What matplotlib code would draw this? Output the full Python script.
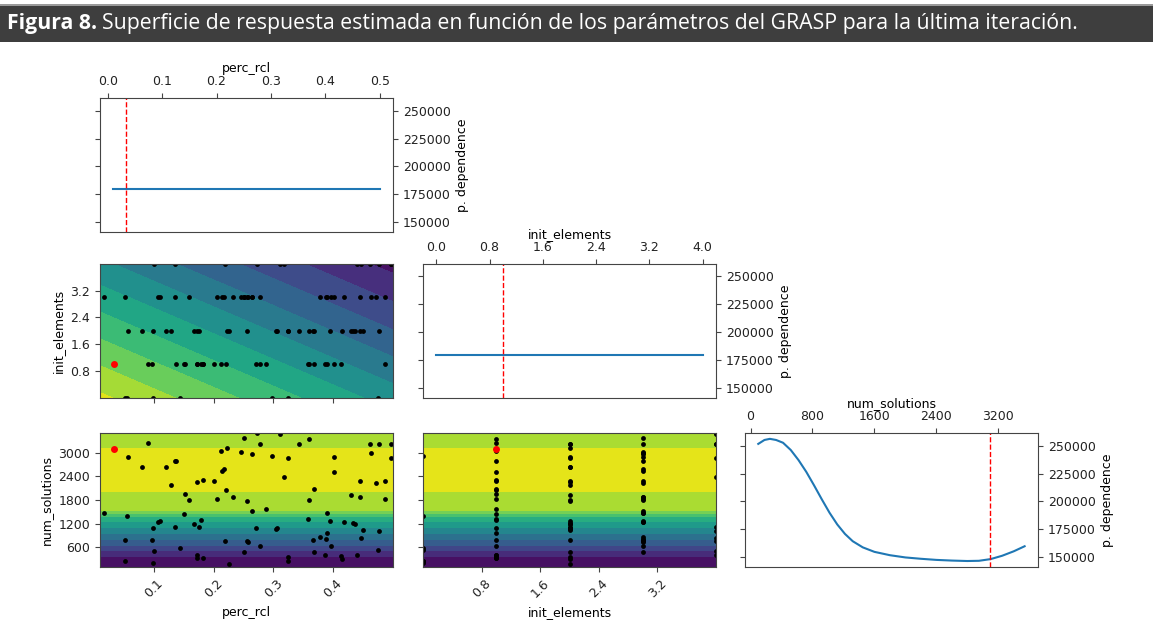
import numpy as np
import matplotlib
matplotlib.use("Agg")
import matplotlib.pyplot as plt
from matplotlib.patches import Rectangle
from matplotlib.ticker import MaxNLocator

# Evaluated samples (perc_rcl, init_elements, num_solutions)
perc_rcl = [0.090, 0.0567, 0.0795, 0.120, 0.135, 0.138, 0.1295, 0.173, 0.183, 0.200,
            0.2117, 0.223, 0.2457, 0.2517, 0.214, 0.217, 0.152, 0.159, 0.221, 0.206,
            0.233, 0.256, 0.0167, 0.0545, 0.1507, 0.1067, 0.110, 0.179, 0.168, 0.175,
            0.135, 0.099, 0.0523, 0.0973, 0.1007, 0.144, 0.1723, 0.1723, 0.1817, 0.0512,
            0.0983, 0.2195, 0.225, 0.2567, 0.2517,
            0.2723, 0.3107, 0.278, 0.343, 0.360, 0.265, 0.298, 0.325, 0.4017, 0.4017,
            0.4623, 0.4767, 0.4962, 0.464, 0.4973, 0.3173, 0.3678, 0.445, 0.4723, 0.4867,
            0.359, 0.4295, 0.445, 0.4862, 0.264, 0.288, 0.3895, 0.3573, 0.3945, 0.4183,
            0.4333, 0.4362, 0.4507, 0.4773, 0.2702, 0.304, 0.3057, 0.2583, 0.278, 0.366,
            0.3783, 0.3873, 0.389, 0.446, 0.396, 0.3673, 0.386, 0.4133, 0.415, 0.4407,
            0.475, 0.324, 0.324]
init_elements = [1, 2, 2, 2, 3, 1, 2, 2, 1, 1,
                 1, 2, 3, 3, 3, 3, 1, 3, 1, 3,
                 3, 2, 3, 0, 1, 3, 3, 1, 2, 2,
                 4, 2, 3, 1, 4, 0, 1, 1, 1, 0,
                 0, 4, 2, 3, 3,
                 4, 4, 3, 2, 1, 3, 0, 2, 3, 1,
                 4, 2, 4, 3, 4, 4, 1, 2, 3, 3,
                 2, 2, 3, 1, 3, 1, 3, 1, 2, 3,
                 2, 2, 2, 4, 1, 2, 2, 3, 1, 2,
                 3, 3, 1, 4, 3, 2, 1, 1, 2, 4,
                 0, 2, 0]
num_solutions = [3242, 2874, 2638, 2638, 2789, 2789, 2170, 2253, 2295, 2270,
                 3040, 3126, 3015, 3377, 2537, 2587, 1959, 1792, 2052, 1818,
                 1876, 1767, 1473, 1405, 1440, 1239, 1272, 1297, 1179, 1113,
                 1120, 1078, 794, 786, 517, 592, 399, 333, 341, 258,
                 198, 761, 190, 761, 484,
                 3486, 3460, 3209, 3209, 3335, 2958, 2915, 2849, 2890, 2512,
                 3209, 3209, 3226, 3000, 2857, 2379, 2077, 2286, 2228, 2270,
                 1808, 1934, 1868, 1833, 1531, 1581, 1473, 1330, 1272, 1247,
                 1214, 1179, 1046, 1012, 1078, 1071, 1096, 743, 636, 794,
                 861, 819, 970, 827, 636, 493, 418, 384, 300, 418,
                 534, 359, 258]

# best point found
best_perc, best_init, best_num = 0.034, 1, 3090

# 1D partial dependence
pd_perc_x = [0.01, 0.5]
pd_perc_y = [180300, 180300]
pd_init_x = [0, 4]
pd_init_y = [179800, 179800]
pd_num_x = [100, 180, 250, 330, 420, 520, 620, 720, 820, 920, 1020, 1120, 1220, 1320,
            1450, 1600, 1800, 2000, 2200, 2400, 2600, 2800, 2950, 3100, 3250, 3400, 3540]
pd_num_y = [251500, 255000, 256000, 255000, 252500, 246000, 237000, 226500, 214500,
            202000, 190000, 179500, 171000, 164500, 159000, 155000, 152000, 150000,
            148800, 147800, 147200, 146800, 147000, 148500, 151500, 155500, 160000]

# 2D surfaces
surf_num = [100, 364, 500, 640, 780, 930, 1080, 1230, 1370, 1450, 1518, 2006, 2550, 3118, 3500]
surf_num_pd = [255000, 250000, 240000, 230000, 220000, 210000, 200000, 190000, 180000,
               170000, 160000, 150000, 146000, 150000, 156000]
grid_perc = [0.01, 0.255, 0.5]
grid_init = [0, 2, 4]
grid_pd = [[147500, 170800, 194200],
           [172500, 195800, 219200],
           [197500, 220800, 243000]]

perc_lim = [0.01, 0.5]
init_lim = [0, 4]
num_lim = [100, 3500]

plt.rcParams['font.size'] = 9
plt.rcParams['axes.edgecolor'] = '#444444'
plt.rcParams['xtick.color'] = '#444444'
plt.rcParams['ytick.color'] = '#444444'
plt.rcParams['xtick.labelcolor'] = '#222222'
plt.rcParams['ytick.labelcolor'] = '#222222'
fig = plt.figure(figsize=(11.53, 6.43), dpi=100)

# header bar
fig.add_artist(Rectangle((0, 1 - 42 / 643), 1, 36 / 643, transform=fig.transFigure,
                         facecolor='#3e3e3e', edgecolor='none'))
fig.add_artist(Rectangle((0, 1 - 6 / 643), 1, 2 / 643, transform=fig.transFigure,
                         facecolor='#9a9a9a', edgecolor='none'))
hdr_fam = ['Open Sans']
t1 = fig.text(7 / 1153, 1 - 24 / 643, 'Figura 8.', color='white', fontsize=15.3,
              fontweight='bold', family=hdr_fam, va='center', ha='left')
fig.canvas.draw()
bb = t1.get_window_extent()
fig.text((bb.x1 + 5) / 1153, 1 - 24 / 643,
         'Superficie de respuesta estimada en función de los parámetros del GRASP para la última iteración.',
         color='white', fontsize=15.3, family=hdr_fam, va='center', ha='left')

lefts = [0.0867, 0.3669, 0.6461]
bottoms = [0.639, 0.381, 0.118]
w, h = 0.2541, 0.209


def new_ax(r, c):
    return fig.add_axes([lefts[c], bottoms[r], w, h])


ylo = min(pd_perc_y + pd_init_y + pd_num_y)
yhi = max(pd_perc_y + pd_init_y + pd_num_y)
pad = 0.05 * (yhi - ylo)


def diag(ax, x, y, best, name):
    ax.plot(x, y, color='#1f77b4', lw=1.5)
    ax.axvline(best, color='r', ls='--', lw=1)
    ax.set_ylim(ylo - pad, yhi + pad)
    ax.xaxis.tick_top()
    ax.xaxis.set_label_position('top')
    ax.set_xlabel(name, labelpad=2)
    ax.yaxis.tick_right()
    ax.yaxis.set_ticks_position('both')
    ax.yaxis.set_label_position('right')
    ax.set_ylabel('p. dependence')
    ax.set_yticks([150000, 175000, 200000, 225000, 250000])
    ax.xaxis.set_major_locator(MaxNLocator(6))


ax = new_ax(0, 0)
diag(ax, pd_perc_x, pd_perc_y, best_perc, 'perc_rcl')
ax.set_xticks([0.0, 0.1, 0.2, 0.3, 0.4, 0.5])

ax = new_ax(1, 1)
diag(ax, pd_init_x, pd_init_y, best_init, 'init_elements')
ax.set_xticks([0.0, 0.8, 1.6, 2.4, 3.2, 4.0])

ax = new_ax(2, 2)
diag(ax, pd_num_x, pd_num_y, best_num, 'num_solutions')
ax.set_xticks([0, 800, 1600, 2400, 3200])

# perc_rcl vs init_elements
ax = new_ax(1, 0)
ax.contourf(grid_perc, grid_init, np.array(grid_pd), 10, cmap='viridis_r')
ax.scatter(perc_rcl, init_elements, c='k', s=12, lw=0)
ax.scatter([best_perc], [best_init], c='r', s=25, lw=0)
ax.set_xlim(perc_lim)
ax.set_ylim(init_lim)
ax.set_xticks([0.1, 0.2, 0.3, 0.4])
ax.set_xticklabels([])
ax.set_yticks([0.8, 1.6, 2.4, 3.2])
ax.set_ylabel('init_elements')

# num_solutions rows
z_num = np.array(surf_num_pd)[:, None] * np.ones(2)
ax = new_ax(2, 0)
ax.contourf(perc_lim, surf_num, z_num, 10, cmap='viridis_r')
ax.scatter(perc_rcl, num_solutions, c='k', s=12, lw=0)
ax.scatter([best_perc], [best_num], c='r', s=25, lw=0)
ax.set_xlim(perc_lim)
ax.set_ylim(num_lim)
ax.set_xticks([0.1, 0.2, 0.3, 0.4])
ax.set_yticks([600, 1200, 1800, 2400, 3000])
ax.set_xlabel('perc_rcl')
ax.set_ylabel('num_solutions')
plt.setp(ax.get_xticklabels(), rotation=45)

ax = new_ax(2, 1)
ax.contourf(init_lim, surf_num, z_num, 10, cmap='viridis_r')
ax.scatter(init_elements, num_solutions, c='k', s=12, lw=0)
ax.scatter([best_init], [best_num], c='r', s=25, lw=0)
ax.set_xlim(init_lim)
ax.set_ylim(num_lim)
ax.set_xticks([0.8, 1.6, 2.4, 3.2])
ax.set_yticks([600, 1200, 1800, 2400, 3000])
ax.set_yticklabels([])
ax.set_xlabel('init_elements')
plt.setp(ax.get_xticklabels(), rotation=45)

fig.savefig('out.png', dpi=100)
